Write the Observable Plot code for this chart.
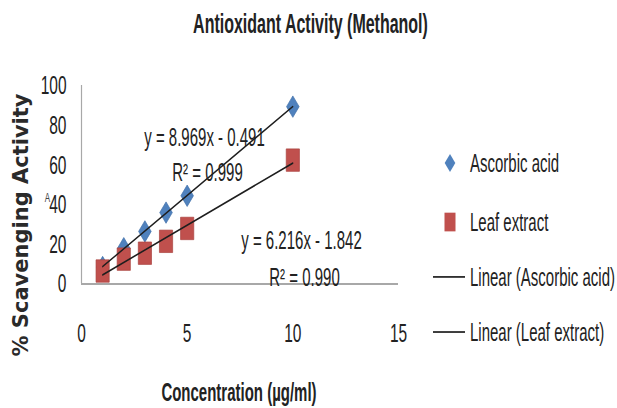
<!DOCTYPE html>
<html>
<head>
<meta charset="utf-8">
<script src="https://cdn.jsdelivr.net/npm/d3@7"></script>
<script src="https://cdn.jsdelivr.net/npm/@observablehq/plot@0.6"></script>
<style>
  html, body { margin: 0; padding: 0; background: #fff; }
  #wrap { position: relative; width: 617px; height: 408px; overflow: hidden; background: #fff; }
  #ylab { position: absolute; left: -129px; top: 213px; width: 300px; height: 24px; line-height: 24px;
          text-align: center; transform: rotate(-90deg); transform-origin: 50% 50%;
          font-family: "DejaVu Sans", sans-serif; font-weight: bold; font-size: 21px; color: #2a2a2a; white-space: nowrap; }
</style>
</head>
<body>
<div id="wrap">
  <div id="chart"></div>
  <div id="ylab">% Scavenging Activity</div>
</div>
<script>
// ---- data ----
const concentration = [1, 2, 3, 4, 5, 10];
const ascorbicAcid  = [8.5, 18, 26.5, 36, 44.5, 89.5];
const leafExtract   = [6.5, 12.5, 15.5, 21.5, 28, 62.5];
const xTicks = [0, 5, 10, 15];
const yTicks = [0, 20, 40, 60, 80, 100];
const seriesNames = ["Ascorbic acid", "Leaf extract"];
const legendLabels = ["Ascorbic acid", "Leaf extract", "Linear (Ascorbic acid)", "Linear (Leaf extract)"];
const eqAscorbic = ["y = 8.969x - 0.491", "R² = 0.999"];
const eqLeaf = ["y = 6.216x - 1.842", "R² = 0.990"];
const titleText = "Antioxidant Activity (Methanol)";
const xLabel = "Concentration (µg/ml)";

const asc = concentration.map((x, i) => ({x, y: ascorbicAcid[i], s: seriesNames[0]}));
const leaf = concentration.map((x, i) => ({x, y: leafExtract[i], s: seriesNames[1]}));

const BLUE = "#4F81BD", RED = "#C0504D";
const diamond = {draw(ctx, size) { const r = Math.sqrt(size / Math.PI);
  ctx.moveTo(0, -r); ctx.lineTo(r, 0); ctx.lineTo(0, r); ctx.lineTo(-r, 0); ctx.closePath(); }};
const square = {draw(ctx, size) { const r = Math.sqrt(size / Math.PI);
  ctx.rect(-r, -r, 2 * r, 2 * r); }};

const W = 617, H = 240, FINAL_H = 408;
const T = d => d;

const svg = Plot.plot({
  width: W, height: H,
  marginTop: 50, marginBottom: 73.5, marginLeft: 81, marginRight: 219,
  style: {fontFamily: "'Liberation Sans', Arial, sans-serif", fontSize: "15.5px", color: "#222", background: "#fff", overflow: "visible"},
  x: {domain: [0, 15]},
  y: {domain: [0, 100]},
  marks: [
    Plot.axisX({ticks: xTicks, tickSize: 0, tickPadding: 23, label: null, fontSize: 15.5}),
    Plot.axisY({ticks: yTicks, tickSize: 0, tickPadding: 15, label: null, fontSize: 15.5}),
    Plot.ruleY([0], {stroke: "#a8a8a8", strokeWidth: 1.2}),
    Plot.ruleX([0], {stroke: "#a8a8a8", strokeWidth: 1.2}),
    Plot.dot(asc, {x: "x", y: "y", symbol: diamond, r: 6.3, fill: BLUE, stroke: "#3f6fa8", strokeWidth: 0.5}),
    Plot.dot(leaf, {x: "x", y: "y", symbol: square, r: 6.6, fill: RED, stroke: "#a8403d", strokeWidth: 0.5}),
    Plot.linearRegressionY(asc, {x: "x", y: "y", ci: 0, stroke: "#1e1e1e", strokeWidth: 1}),
    Plot.linearRegressionY(leaf, {x: "x", y: "y", ci: 0, stroke: "#1e1e1e", strokeWidth: 1}),
    Plot.text([eqAscorbic[0]], {text: T, frameAnchor: "top-left", dx: 123, dy: 30.6, fontSize: 15, lineAnchor: "middle", textAnchor: "middle"}),
    Plot.text([eqAscorbic[1]], {text: T, frameAnchor: "top-left", dx: 126, dy: 51.2, fontSize: 15, lineAnchor: "middle", textAnchor: "middle"}),
    Plot.text([eqLeaf[0]], {text: T, frameAnchor: "top-left", dx: 220, dy: 91.2, fontSize: 15, lineAnchor: "middle", textAnchor: "middle"}),
    Plot.text([eqLeaf[1]], {text: T, frameAnchor: "top-left", dx: 223, dy: 112.9, fontSize: 15, lineAnchor: "middle", textAnchor: "middle"}),
    Plot.text([titleText], {text: T, frameAnchor: "top-left", dx: 229, dy: -36.5, fontSize: 16, fontWeight: "bold", lineAnchor: "middle", textAnchor: "middle"}),
    Plot.text([xLabel], {text: T, frameAnchor: "top-left", dx: 157.5, dy: 180.6, fontSize: 15, fontWeight: "bold", lineAnchor: "middle", textAnchor: "middle"}),
    Plot.text(["A"], {text: T, frameAnchor: "top-left", dx: -34, dy: 66, fontSize: 8, lineAnchor: "middle", textAnchor: "middle", fill: "#444"})
  ]
});

// legend (drawn in the same, unstretched coordinate system)
const g = d3.select(svg).append("g").attr("class", "legend").attr("text-anchor", "start");
const lx = 450, tx = 470;
const ly = [95.9, 130.6, 162.9, 195.3];
g.append("path").attr("transform", `translate(${lx},${ly[0]})`).attr("d", "M0,-5.3L5.3,0L0,5.3L-5.3,0Z").attr("fill", BLUE);
g.append("rect").attr("x", lx - 5.5).attr("y", ly[1] - 5.5).attr("width", 11).attr("height", 11).attr("fill", RED);
g.append("line").attr("x1", 433).attr("x2", 465).attr("y1", ly[2]).attr("y2", ly[2]).attr("stroke", "#1e1e1e").attr("stroke-width", 1);
g.append("line").attr("x1", 433).attr("x2", 465).attr("y1", ly[3]).attr("y2", ly[3]).attr("stroke", "#1e1e1e").attr("stroke-width", 1);
legendLabels.forEach((t, i) => {
  g.append("text").attr("x", tx).attr("y", ly[i]).attr("dy", "0.35em").attr("text-anchor", "start")
    .attr("font-size", 15).attr("fill", "#222").text(t);
});

// stretch vertically as in the reference export
svg.setAttribute("viewBox", `0 0 ${W} ${H}`);
svg.setAttribute("width", W);
svg.setAttribute("height", FINAL_H);
svg.setAttribute("preserveAspectRatio", "none");
svg.style.width = W + "px";
svg.style.height = FINAL_H + "px";
svg.style.maxWidth = "none";
svg.style.display = "block";
document.getElementById("chart").appendChild(svg);
</script>
</body>
</html>
